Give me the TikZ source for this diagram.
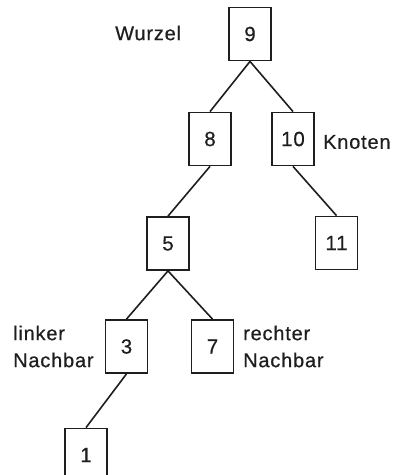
\documentclass[tikz,border=0pt]{standalone}
\usepackage{fontspec}
\setmainfont{Liberation Sans}[LetterSpace=4, FakeBold=0.5]
\begin{document}
\begin{tikzpicture}[x=1pt,y=-1pt,
  key/.style={draw, line width=1.8pt, rectangle, minimum width=42pt, minimum height=53pt,
    inner sep=0pt, font=\fontsize{20.5}{24}\selectfont},
  edge/.style={line width=1.6pt},
  lbl/.style={inner sep=0pt, font=\fontsize{20}{27}\selectfont, align=left}]
  \useasboundingbox (0,0) rectangle (393,475);
  \clip (0,0) rectangle (393,475);
  \definecolor{ink}{HTML}{1E1E1E}
  \begin{scope}[color=ink]
  % nodes of the tree
  \node[key] (n9)  at (250,34)    {9};
  \node[key] (n8)  at (210,139)   {8};
  \node[key] (n10) at (293,139)   {10};
  \node[key] (n5)  at (168,243.5) {5};
  \node[key] (n11) at (336.5,243) {11};
  \node[key] (n3)  at (126.5,346.5) {3};
  \node[key] (n7)  at (212.5,346.5) {7};
  \node[key] (n1)  at (86,455)    {1};
  % edges
  \draw[edge] (n9.south) -- (n8.north);
  \draw[edge] (n9.south) -- (n10.north);
  \draw[edge] (n8.south) -- (n5.north);
  \draw[edge] (n10.south) -- (n11.north);
  \draw[edge] (n5.south) -- (n3.north);
  \draw[edge] (n5.south) -- (n7.north);
  \draw[edge] (n3.south) -- (n1.north);
  % annotations
  \node[lbl, anchor=west] (wurzel) at (115,33) {Wurzel};
  \node[lbl, anchor=west] (knoten) at (323,142) {Knoten};
  \node[lbl, anchor=west] (links) at (13,346.5) {linker\\Nachbar};
  \node[lbl, anchor=west] (rechts) at (243,346.5) {rechter\\Nachbar};
  \end{scope}
\end{tikzpicture}
\end{document}
